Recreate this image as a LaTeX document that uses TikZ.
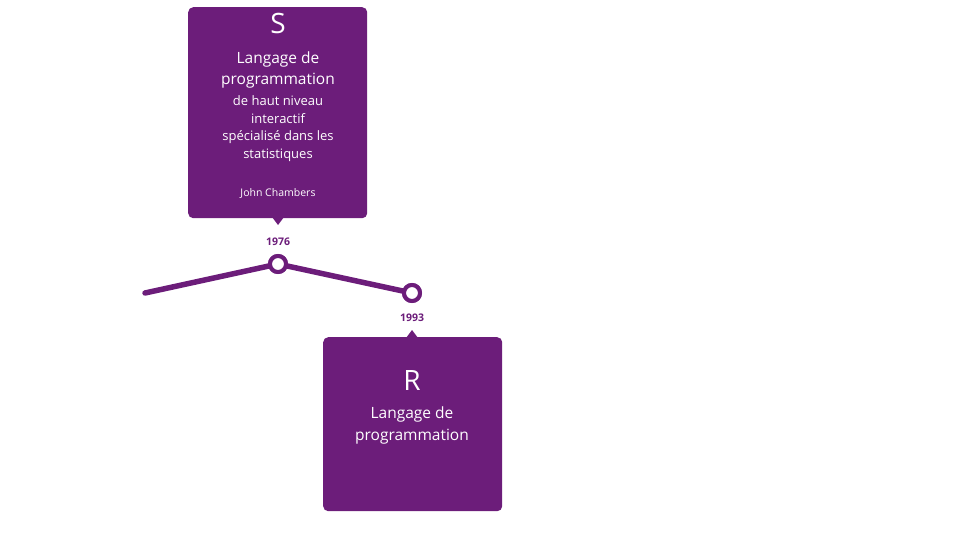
\documentclass[tikz,border=0pt]{standalone}
\usepackage{fontspec}
\setmainfont{Open Sans}
\usetikzlibrary{positioning}
\definecolor{rpurple}{RGB}{108,29,122}

\tikzset{
  card/.style={fill=rpurple, rounded corners=5pt, minimum width=179pt, inner sep=0pt},
  cardtext/.style={text=white, align=center, inner sep=0pt},
  year/.style={text=rpurple, font=\fontsize{10.5}{12}\selectfont\bfseries, inner sep=0pt},
  dot/.style={circle, draw=rpurple, fill=white, line width=4pt, minimum size=16pt, inner sep=0pt},
  track/.style={draw=rpurple, line width=5.5pt, line cap=round, line join=round}
}

\begin{document}
\begin{tikzpicture}[x=1pt,y=-1pt]
\useasboundingbox (0,0) rectangle (960,540);
% timeline
\coordinate (start) at (145,293);
\node [dot] (d1976) at (278,264) {};
\node [dot] (d1993) at (412,293) {};
\draw [track] (start) -- (d1976.center) -- (d1993.center);
\node [dot] at (d1976) {};
\node [dot] at (d1993) {};
\node [year] (y1976) at (278,242) {1976};
\node [year] (y1993) at (412,318) {1993};
% S card
\node [card, minimum height=211pt, anchor=north west] (cardS) at (188,7) {};
\fill [rpurple] (272,217) -- (278,225) -- (284,217) -- cycle;
\node [cardtext, font=\fontsize{28}{30}\selectfont] (tS) at (278,24) {S};
\node [cardtext, font=\fontsize{15.5}{17}\selectfont] (lS1) at (278,59) {Langage de};
\node [cardtext, font=\fontsize{15.5}{17}\selectfont] (lS2) at (278,81) {programmation};
\node [cardtext, font=\fontsize{13}{14}\selectfont] (lS3) at (278,101) {de haut niveau};
\node [cardtext, font=\fontsize{13}{14}\selectfont] (lS4) at (278,119) {interactif};
\node [cardtext, font=\fontsize{13}{14}\selectfont] (lS5) at (278,137) {spécialisé dans les};
\node [cardtext, font=\fontsize{13}{14}\selectfont] (lS6) at (278,155) {statistiques};
\node [cardtext, font=\fontsize{10.5}{12}\selectfont] (aS) at (278,193) {John Chambers};
% R card
\node [card, minimum height=174pt, anchor=north west] (cardR) at (323,337) {};
\fill [rpurple] (406,338) -- (412,330) -- (418,338) -- cycle;
\node [cardtext, font=\fontsize{28}{30}\selectfont] (tR) at (412,381) {R};
\node [cardtext, font=\fontsize{15.5}{17}\selectfont] (lR1) at (412,414) {Langage de};
\node [cardtext, font=\fontsize{15.5}{17}\selectfont] (lR2) at (412,437) {programmation};
\end{tikzpicture}
\end{document}
